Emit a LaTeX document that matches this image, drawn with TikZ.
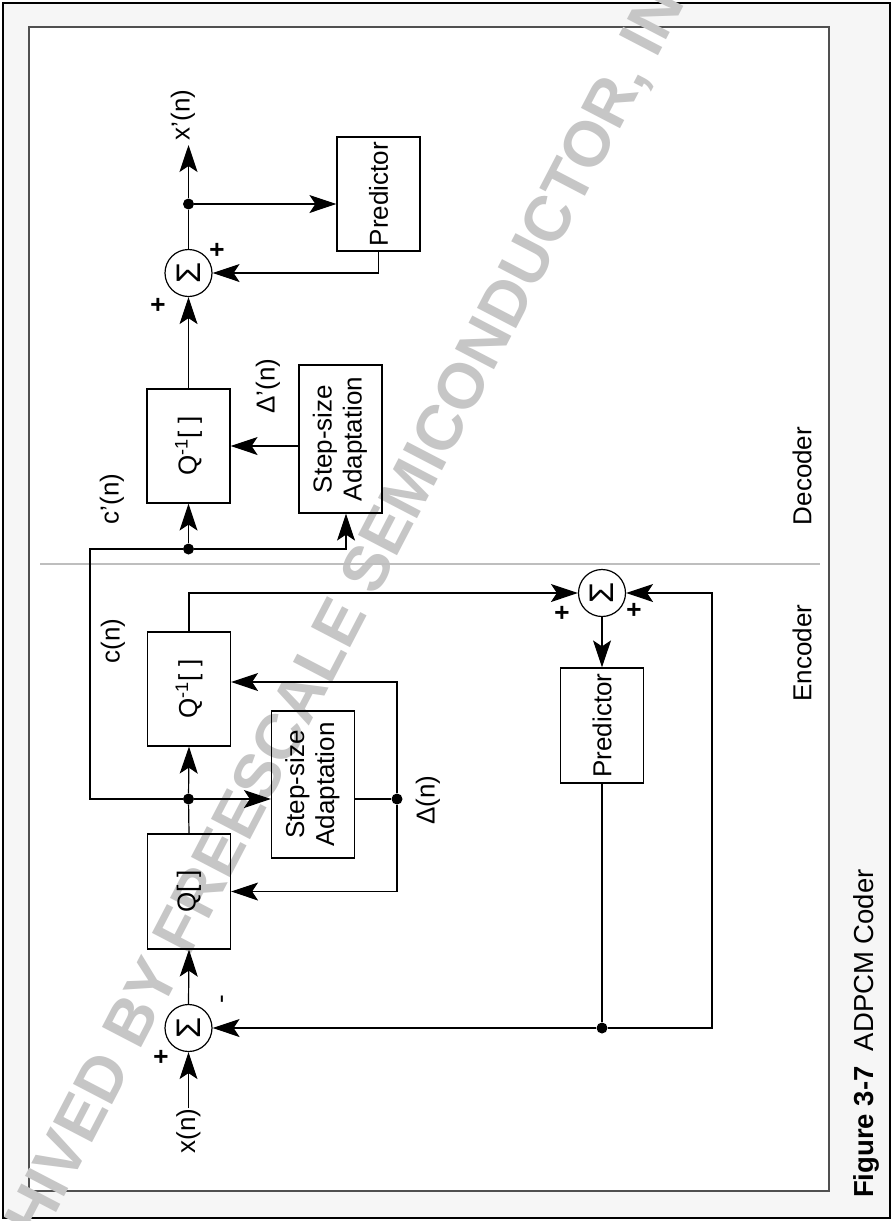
\documentclass[tikz,border=0pt]{standalone}
\usepackage{fontspec}
\setmainfont{Liberation Sans}
\usepackage{graphicx}
\usetikzlibrary{arrows.meta}
\definecolor{margin}{RGB}{246,246,246}
\definecolor{wmark}{RGB}{198,198,198}
\definecolor{framegray}{RGB}{80,80,80}
\definecolor{divgray}{RGB}{190,190,190}
\newcommand{\rt}[1]{\rotatebox{90}{#1}}
\begin{document}
\begin{tikzpicture}[x=1pt,y=-1pt,
  every node/.style={font=\fontsize{26}{30}\selectfont},
  box/.style={draw, line width=1.2pt, inner sep=0pt, minimum width=83pt, minimum height=114pt},
  sbox/.style={box, minimum height=147pt},
  sumnode/.style={draw, circle, line width=1.2pt, inner sep=0pt, minimum size=47pt, font=\fontsize{34}{40}\selectfont},
  lab/.style={inner sep=0pt},
  sgn/.style={inner sep=0pt, font=\fontsize{26}{30}\selectfont\bfseries},
  dot/.style={circle, fill, inner sep=0pt, minimum size=11pt},
  wire/.style={line width=1.2pt},
  arr/.style={wire, -{Stealth[length=27pt,width=18pt,inset=6pt]}}]
\useasboundingbox (0,0) rectangle (893,1221);
% frame
\draw[line width=2.5pt, fill=margin] (3,3) rectangle (890,1218);
\draw[framegray, line width=1.5pt, fill=white] (29,27) rectangle (829,1191);
% watermark
\begin{scope}
\clip (0,0) rectangle (893,1221);
\node[rotate=62.5, text=wmark, inner sep=0pt, font=\fontsize{64}{72}\selectfont\bfseries] (wm) at (331,647) {ARCHIVED BY FREESCALE SEMICONDUCTOR, INC.};
\end{scope}
% divider
\draw[divgray, line width=1.2pt] (40,564) -- (820,564);
% ---------- decoder ----------
\node[box] (qD) at (188.5,446) {\rt{Q\textsuperscript{-1}[ ]}};
\node[sbox, minimum height=148pt] (stepD) at (340.5,439) {\rt{\begin{tabular}{@{}c@{}}Step-size\\Adaptation\end{tabular}}};
\node[box] (predD) at (378.5,194) {\rt{Predictor}};
\node[sumnode] (sigD) at (188.5,273) {\rt{Σ}};
\node[dot] (dX) at (188.5,204) {};
\node[dot] (dD) at (188.5,549) {};
\node[lab] (xo) at (183,115) {\rt{x’(n)}};
\coordinate (xTip) at (188.5,145);
\coordinate (cC) at (346,549);
% ---------- encoder ----------
\node[box] (qinvE) at (189,689) {\rt{Q\textsuperscript{-1}[ ]}};
\node[sbox] (stepE) at (313,784.5) {\rt{\begin{tabular}{@{}c@{}}Step-size\\Adaptation\end{tabular}}};
\node[box, minimum height=115pt] (qE) at (189,891.5) {\rt{Q[ ]}};
\node[sumnode] (sigE1) at (188.5,1028) {\rt{Σ}};
\node[sumnode] (sigE2) at (602,593) {\rt{Σ}};
\node[box, minimum height=115pt] (predE) at (602,725.5) {\rt{Predictor}};
\node[dot] (dE1) at (188.5,799) {};
\node[dot] (dE2) at (397,799) {};
\node[dot] (dE3) at (602,1028) {};
\node[lab] (xin) at (188.5,1131) {\rt{x(n)}};
\coordinate (cA) at (90,799);
\coordinate (cB) at (90,549);
\coordinate (fbR) at (712,1028);
% ---------- labels ----------
\node[lab] (lcp) at (112,499) {\rt{c’(n)}};
\node[lab] (lc) at (113,641) {\rt{c(n)}};
\node[lab] (ldp) at (268,386) {\rt{Δ’(n)}};
\node[lab] (ld) at (428,800) {\rt{Δ(n)}};
\node[sgn] (p1) at (218,250) {\rt{+}};
\node[sgn] (p2) at (159,305) {\rt{+}};
\node[sgn] (p3) at (162,1057) {\rt{+}};
\node[lab] (m1) at (225,999) {\rt{-}};
\node[sgn] (p4) at (563,613) {\rt{+}};
\node[sgn] (p5) at (635,610) {\rt{+}};
\node[lab] (ldec) at (802,476) {\rt{Decoder}};
\node[lab] (lenc) at (802,653) {\rt{Encoder}};
\node[lab, anchor=south] (cap) at (866,1198) {\rt{\fontsize{27.5}{32}\selectfont\textbf{Figure 3-7}\ \ ADPCM Coder}};
% ---------- decoder wires ----------
\draw[arr] (dD) -- (qD.south);
\draw[arr] (dD) -- (cC) -- (cC |- stepD.south);
\draw[arr] (stepD.west |- qD.east) -- (qD.east);
\draw[arr] (qD.north) -- (sigD.south);
\draw[wire] (sigD.north) -- (dX);
\draw[arr] (dX) -- (xTip);
\draw[arr] (dX) -- (predD.west |- dX);
\draw[arr] (predD.south) |- (sigD.east);
% ---------- encoder wires ----------
\draw[arr] (xin.north) -- (sigE1.south);
\draw[arr] (sigE1.north) -- (qE.south);
\draw[wire] (qE.north) -- (dE1);
\draw[arr] (dE1) -- (qinvE.south);
\draw[arr] (dE1) -- (stepE.west |- dE1);
\draw[wire] (dE1) -- (cA) -- (cB) -- (dD);
\draw[wire] (stepE.east |- dE2) -- (dE2);
\draw[arr] (dE2) |- ([yshift=7pt]qinvE.east);
\draw[arr] (dE2) |- (qE.east);
\draw[arr] (qinvE.north) |- (sigE2.west);
\draw[arr] (sigE2.south) -- (predE.north);
\draw[wire] (predE.south) -- (dE3);
\draw[arr] (dE3) -- (sigE1.east);
\draw[arr] (dE3) -- (fbR) |- (sigE2.east);
\end{tikzpicture}
\end{document}
